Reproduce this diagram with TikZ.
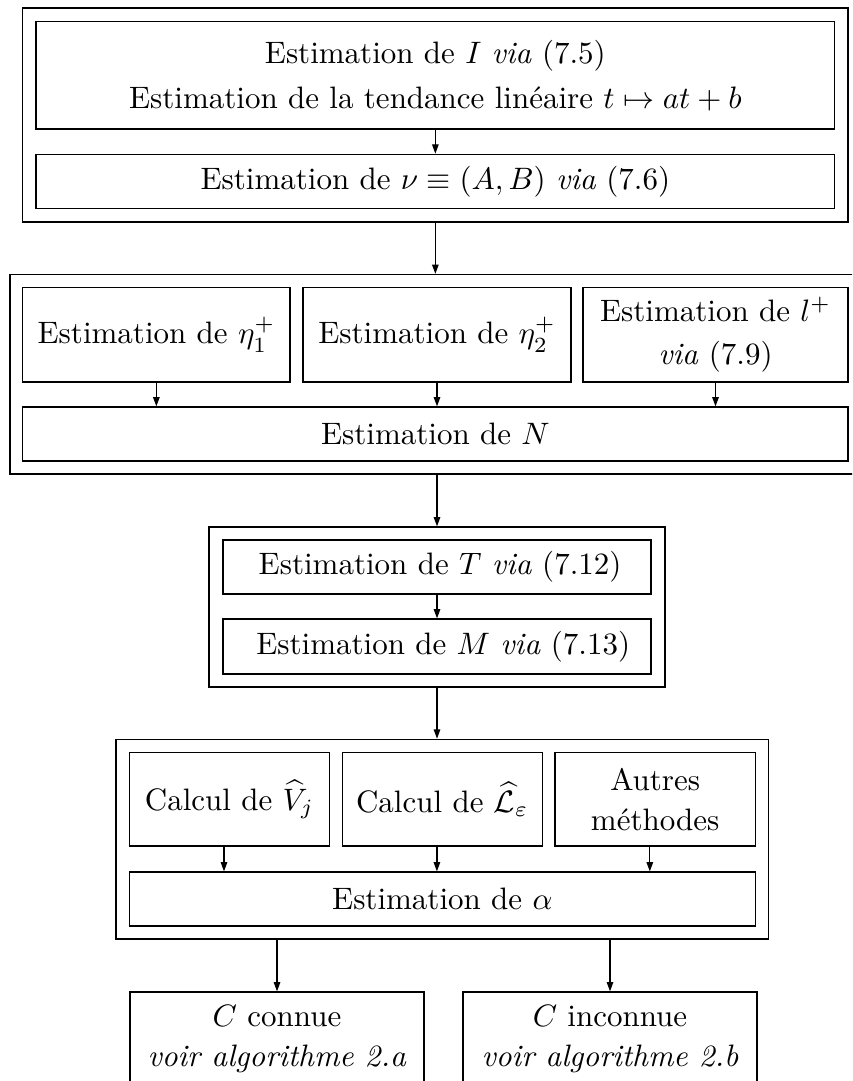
\documentclass[tikz,border=0pt]{standalone}
\usetikzlibrary{arrows.meta}
\newdimen\px
\px=0.32258pt
\tikzset{
  box/.style={draw, line width=0.4pt, inner sep=0pt, align=center},
  arr/.style={line width=0.4pt, -{Triangle[length=3pt,width=2.1pt]}}
}
\begin{document}
\begin{tikzpicture}[x=0.32258pt, y=-0.32258pt]
\useasboundingbox (0,0) rectangle (852,1081);
\clip (0,0) rectangle (852,1081);
% block 1
\node[box, minimum width=825.3\px, minimum height=214\px] (O1) at (435.35,115) {};
\node[box, minimum width=798.7\px, minimum height=107.3\px] (A) at (435.35,75.35)
  {Estimation de $I$ \textit{via} (7.5)\\[2.5pt] Estimation de la tendance linéaire $t\mapsto at+b$};
\node[box, minimum width=798.7\px, minimum height=54.4\px] (B) at (435.35,181.5)
  {Estimation de $\nu\equiv(A,B)$ \textit{via} (7.6)};
% block 2
\node[box, minimum width=851\px, minimum height=199.5\px] (O2) at (435.5,374.25) {};
\node[box, minimum width=267.3\px, minimum height=94.7\px] (E1) at (156.35,334.65) {Estimation de $\eta_1^+$};
\node[box, minimum width=268\px, minimum height=94.7\px] (E2) at (437,334.65) {Estimation de $\eta_2^+$};
\node[box, minimum width=265\px, minimum height=94.7\px] (E3) at (715.5,334.65) {Estimation de $l^+$\\[1.9pt]\textit{via} (7.9)};
\node[box, minimum width=825.3\px, minimum height=54\px] (N) at (435.35,434) {Estimation de $N$};
% block 3
\node[box, minimum width=456\px, minimum height=160\px] (O3) at (437,607) {};
\node[box, minimum width=428\px, minimum height=54\px] (T) at (437,567) {\hspace{2pt}Estimation de $T$ \textit{via} (7.12)};
\node[box, minimum width=428\px, minimum height=55\px] (M) at (437,646.5) {\hspace{4pt}Estimation de $M$ \textit{via} (7.13)};
% block 4
\node[box, minimum width=652.7\px, minimum height=199.7\px] (O4) at (442.35,839.15) {};
\node[box, minimum width=200.2\px, minimum height=93.3\px] (V) at (229.4,799.35) {Calcul de $\widehat{V}_j$};
\node[box, minimum width=200.2\px, minimum height=93.3\px] (L) at (442.3,799.35) {Calcul de $\widehat{\mathcal{L}}_\varepsilon$};
\node[box, minimum width=200.2\px, minimum height=93.3\px] (R) at (655.2,799.35) {Autres\\[0.9pt]méthodes};
\node[box, minimum width=626\px, minimum height=54\px] (Al) at (442.3,899) {Estimation de $\alpha$};
% bottom
\node[box, minimum width=294\px, minimum height=95\px] (C1) at (277,1039.5) {$C$ connue\\[0.9pt]\textit{voir algorithme 2.a}};
\node[box, minimum width=294\px, minimum height=95\px] (C2) at (610,1039.5) {$C$ inconnue\\[0.9pt]\textit{voir algorithme 2.b}};
% arrows
\draw[arr] (A.south) -- (B.north);
\draw[arr] (O1.south) -- (O1.south |- O2.north);
\draw[arr] (E1.south) -- (E1.south |- N.north);
\draw[arr] (E2.south) -- (E2.south |- N.north);
\draw[arr] (E3.south) -- (E3.south |- N.north);
\draw[arr] (O3.north |- O2.south) -- (O3.north);
\draw[arr] (T.south) -- (M.north);
\draw[arr] (O3.south) -- (O3.south |- O4.north);
\draw[arr] ([xshift=-5.4\px]V.south) -- ([xshift=-5.4\px]V.south |- Al.north);
\draw[arr] ([xshift=-5.4\px]L.south) -- ([xshift=-5.4\px]L.south |- Al.north);
\draw[arr] ([xshift=-5.4\px]R.south) -- ([xshift=-5.4\px]R.south |- Al.north);
\draw[arr] (C1.north |- O4.south) -- (C1.north);
\draw[arr] (C2.north |- O4.south) -- (C2.north);
\end{tikzpicture}
\end{document}
